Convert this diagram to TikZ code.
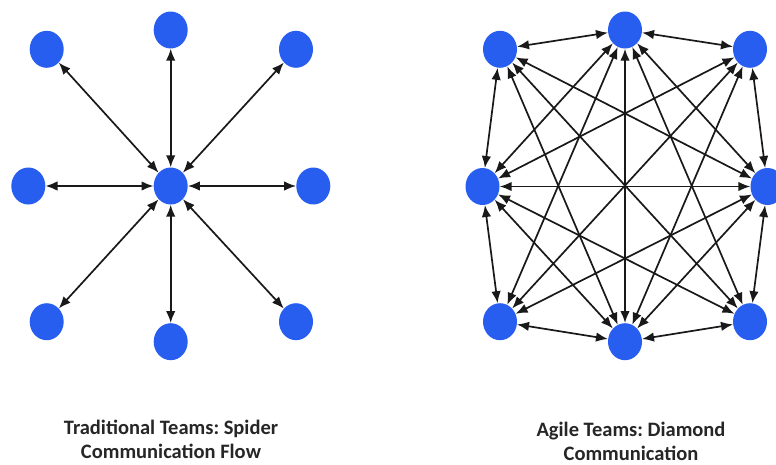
\documentclass[tikz,border=0pt]{standalone}
\usepackage{fontspec}
\setmainfont{Carlito}
\usetikzlibrary{arrows.meta,shapes.geometric}
\definecolor{member}{RGB}{40,94,240}
\frenchspacing
\tikzset{
  x=1pt, y=-1pt,
  member/.style={ellipse, fill=member, draw=none, minimum width=34pt, minimum height=37pt, inner sep=0pt},
  link/.style={<->, >={Latex[length=12pt,width=9.5pt]}, line width=1.7pt, black!90},
  caption/.style={font=\bfseries\fontsize{20.5}{24}\selectfont, align=center, text=black!85}
}
\begin{document}
\begin{tikzpicture}
\useasboundingbox (0,0) rectangle (776,464);
\clip (0,0) rectangle (776,464);
\fill[white] (0,0) rectangle (776,464);

% Spider: one hub linked to every member
\node[member] (lc) at (170.7,186) {};
\node[member] (l0) at (170.7,30) {};
\node[member] (l1) at (296,49.3) {};
\node[member] (l2) at (313.3,186) {};
\node[member] (l3) at (296,321.7) {};
\node[member] (l4) at (170.7,341.7) {};
\node[member] (l5) at (46.7,321.7) {};
\node[member] (l6) at (28.3,186) {};
\node[member] (l7) at (46.7,49.3) {};
\foreach \i in {0,...,7} \draw[link] (lc) -- (l\i);

% Diamond: members linked pairwise, except corner to neighbouring corner
\node[member] (r0) at (625,30) {};
\node[member] (r1) at (750,49.3) {};
\node[member] (r2) at (767.5,186.5) {};
\node[member] (r3) at (750,321.7) {};
\node[member] (r4) at (625,341.7) {};
\node[member] (r5) at (500,321.7) {};
\node[member] (r6) at (482.5,186.5) {};
\node[member] (r7) at (500,49.3) {};
\foreach \a/\b in {r0/r1,r0/r2,r0/r3,r0/r4,r0/r5,r0/r6,r0/r7,
                   r1/r2,r1/r4,r1/r5,r1/r6,
                   r2/r3,r2/r4,r2/r5,r2/r6,r2/r7,
                   r3/r4,r3/r6,r3/r7,
                   r4/r5,r4/r6,r4/r7,
                   r5/r6,
                   r6/r7}
  \draw[link] (\a) -- (\b);

\node[caption] (cap1) at (171,439) {Traditional Teams: Spider\\Communication Flow};
\node[caption] (cap2) at (631,441) {Agile Teams: Diamond\\Communication};
\end{tikzpicture}
\end{document}
